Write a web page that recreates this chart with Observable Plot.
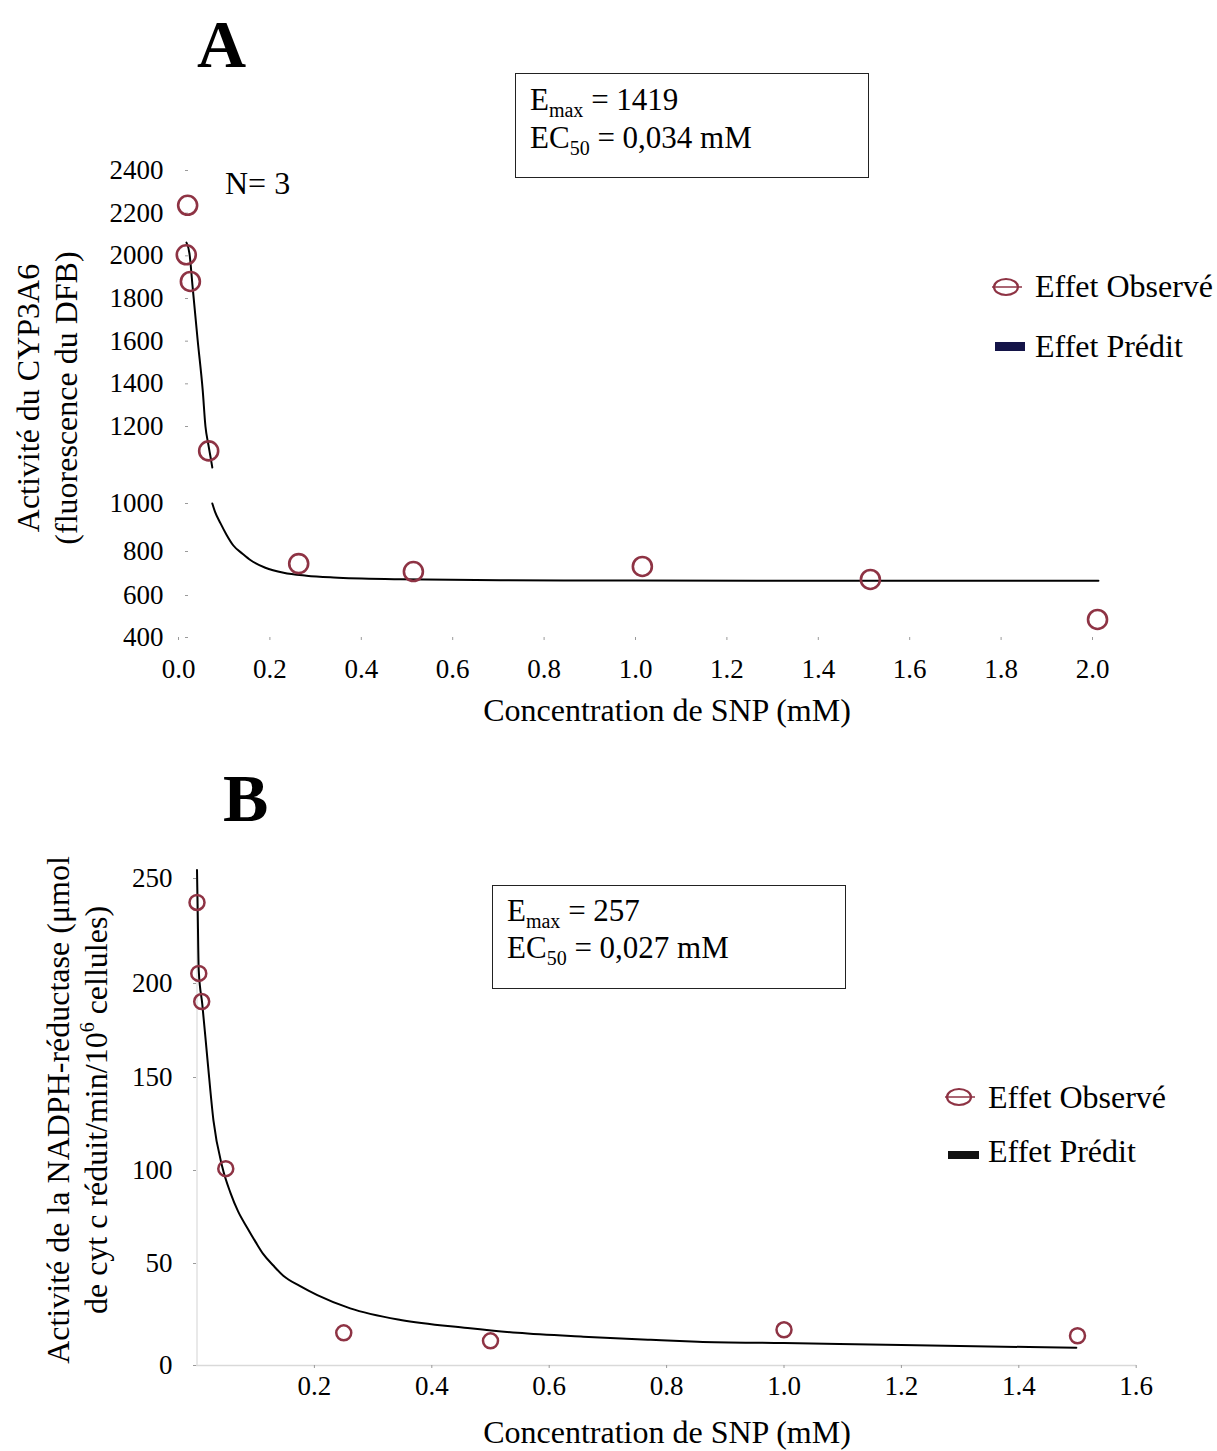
<!DOCTYPE html>
<html>
<head>
<meta charset="utf-8">
<script src="https://cdn.jsdelivr.net/npm/d3@7"></script>
<script src="https://cdn.jsdelivr.net/npm/@observablehq/plot@0.6"></script>
<style>
  body { margin: 0; background: white; }
  #page { position: relative; width: 1217px; height: 1451px; font-family: "Liberation Serif", "Times New Roman", serif; color: black; overflow: hidden; }
  .abs { position: absolute; white-space: nowrap; line-height: 1; }
  .t32 { font-size: 32px; }
  .sub { font-size: 20px; position: relative; top: 7px; }
  .sup { font-size: 20px; position: relative; top: -13px; }
  .box { position: absolute; border: 1.5px solid #222; box-sizing: border-box; }
  .ytitle { position: absolute; text-align: center; font-size: 32px; line-height: 38px; transform: rotate(-90deg); white-space: nowrap; }
</style>
</head>
<body>
<div id="page">
  <div id="plotA" style="position:absolute; left:0; top:0;"></div>
  <div id="plotB" style="position:absolute; left:0; top:740px;"></div>

  <!-- Panel A annotations -->
  <div class="abs" style="left:197px; top:10px; font-size:68px; font-weight:bold;">A</div>
  <div class="box" style="left:515px; top:73px; width:354px; height:105px;"></div>
  <div class="abs" style="left:530px; top:84px; font-size:31px;">E<span class="sub">max</span> = 1419</div>
  <div class="abs" style="left:530px; top:122px; font-size:31px;">EC<span class="sub">50</span> = 0,034 mM</div>
  <div class="abs t32" style="left:225px; top:167px;">N= 3</div>
  <div class="ytitle" style="left:-253px; top:360px; width:600px; height:76px;">Activité du CYP3A6<br>(fluorescence du DFB)</div>
  <div class="abs t32" style="left:0; width:1334px; text-align:center; top:694px;">Concentration de SNP (mM)</div>
  <svg class="abs" style="left:989px; top:275px;" width="36" height="24">
    <ellipse cx="17" cy="12" rx="12" ry="8" fill="none" stroke="#8e3344" stroke-width="2.2"/>
    <line x1="3" y1="12" x2="33" y2="12" stroke="#8e3344" stroke-width="1.5"/>
  </svg>
  <div class="abs t32" style="left:1035px; top:270px;">Effet Observé</div>
  <div class="abs" style="left:995px; top:342px; width:30px; height:9px; background:#141448;"></div>
  <div class="abs t32" style="left:1035px; top:330px;">Effet Prédit</div>

  <!-- Panel B annotations -->
  <div class="abs" style="left:223px; top:764px; font-size:68px; font-weight:bold;">B</div>
  <div class="box" style="left:492px; top:885px; width:354px; height:104px;"></div>
  <div class="abs" style="left:507px; top:895px; font-size:31px;">E<span class="sub">max</span> = 257</div>
  <div class="abs" style="left:507px; top:932px; font-size:31px;">EC<span class="sub">50</span> = 0,027 mM</div>
  <div class="ytitle" style="left:-223px; top:1072px; width:600px; height:76px;">Activité de la NADPH-réductase (μmol<br>de cyt c réduit/min/10<span class="sup">6</span> cellules)</div>
  <div class="abs t32" style="left:0; width:1334px; text-align:center; top:1416px;">Concentration de SNP (mM)</div>
  <svg class="abs" style="left:942px; top:1085px;" width="36" height="24">
    <ellipse cx="17" cy="12" rx="12" ry="8" fill="none" stroke="#8e3344" stroke-width="2.2"/>
    <line x1="3" y1="12" x2="33" y2="12" stroke="#8e3344" stroke-width="1.5"/>
  </svg>
  <div class="abs t32" style="left:988px; top:1081px;">Effet Observé</div>
  <div class="abs" style="left:948px; top:1151px; width:31px; height:8px; background:#111;"></div>
  <div class="abs t32" style="left:988px; top:1135px;">Effet Prédit</div>
</div>

<script>
// ---------- Panel A : CYP3A6 activity ----------
const concObsA  = [0.017, 0.020, 0.026, 0.066, 0.263, 0.514, 1.015, 1.514, 2.011];
const effetObsA = [2005, 2237, 1880, 1087, 745, 709, 732, 673, 486];

// predicted curve (upper part above the axis break, lower part below)
const concPredA_haut  = [0.0175, 0.024, 0.031, 0.042, 0.053, 0.059, 0.065, 0.070, 0.074];
const effetPredA_haut = [2062, 2011, 1852, 1603, 1369, 1200, 1120, 1060, 1010];
const concPredA_bas   = [0.074, 0.080, 0.092, 0.105, 0.120, 0.140, 0.158, 0.190, 0.230, 0.280, 0.339, 0.486, 0.705, 1.000, 1.500, 2.013];
const effetPredA_bas  = [1000, 965, 917, 870, 825, 790, 760, 726, 703, 690, 682, 674, 669, 668, 667, 667];

const ticksYA = [400, 600, 800, 1000, 1200, 1400, 1600, 1800, 2000, 2200, 2400];
const ticksXA = [0, 0.2, 0.4, 0.6, 0.8, 1.0, 1.2, 1.4, 1.6, 1.8, 2.0];

// ---------- Panel B : NADPH-reductase activity ----------
const concObsB  = [0, 0.003, 0.008, 0.049, 0.25, 0.5, 1.0, 1.5];
const effetObsB = [238.6, 204.8, 190.4, 101, 16, 12.1, 17.5, 14.6];

const concPredB  = [0, 0.001, 0.003, 0.009, 0.018, 0.028, 0.043, 0.057, 0.070, 0.086, 0.100, 0.113, 0.130, 0.147, 0.175, 0.205, 0.261, 0.347, 0.461, 0.546, 0.658, 0.773, 0.853, 1.0, 1.2, 1.498];
const effetPredB = [254, 238, 206, 189, 159, 127, 102, 88, 78, 69, 61.5, 55, 49, 44, 39, 34.5, 28, 22.3, 18.4, 16, 14.1, 12.6, 11.7, 11.0, 10.0, 8.7];

const ticksYB = [0, 50, 100, 150, 200, 250];
const ticksXB = [0.2, 0.4, 0.6, 0.8, 1.0, 1.2, 1.4, 1.6];

// tables built from the arrays
const obsA = concObsA.map((x, i) => ({x, y: effetObsA[i]}));
const predA = [
  ...concPredA_haut.map((x, i) => ({x, y: effetPredA_haut[i], seg: "haut"})),
  ...concPredA_bas.map((x, i) => ({x, y: effetPredA_bas[i], seg: "bas"}))
];
const obsB = concObsB.map((x, i) => ({x, y: effetObsB[i]}));
const predB = concPredB.map((x, i) => ({x, y: effetPredB[i]}));

const font = "'Liberation Serif', 'Times New Roman', serif";
const markerColor = "#8e3344";

// The scanned figure's y axes are not evenly spaced (panel A has a break between 1000 and 1200):
// a scale transform reproduces that spacing.
const breakA = d3.scaleLinear().domain([400, 600, 800, 1000, 1010, 1200, 2400]).range([0, 42, 86, 134, 170, 211, 467]);
const spacingB = d3.scaleLinear().domain([0, 50, 100, 150, 200, 250]).range([0, 102, 195, 288, 382, 487]);

const plotA = Plot.plot({
  width: 1217,
  height: 740,
  marginLeft: 188,
  marginRight: 125,
  marginTop: 170,
  marginBottom: 103,
  style: {fontFamily: font, fontSize: "27px", background: "transparent", overflow: "visible", color: "black"},
  x: {domain: [0, 2], range: [178, 1092]},
  y: {transform: v => breakA(v), domain: [0, 467], range: [637, 170]},
  marks: [
    Plot.axisY(ticksYA, {anchor: "left", tickSize: 3, tickPadding: 22, stroke: "#9a9a9a", fill: "black", label: null, fontSize: 27, tickFormat: d => String(d)}),
    Plot.axisX(ticksXA, {anchor: "bottom", tickSize: 3, tickPadding: 18, stroke: "#9a9a9a", fill: "black", label: null, fontSize: 27, tickFormat: d => d.toFixed(1)}),
    Plot.line(predA, {x: "x", y: "y", z: "seg", curve: "monotone-x", stroke: "black", strokeWidth: 2}),
    Plot.dot(obsA, {x: "x", y: "y", r: 9.5, stroke: markerColor, strokeWidth: 2.6, fill: "none"})
  ]
});
document.getElementById("plotA").appendChild(plotA);

const plotB = Plot.plot({
  width: 1217,
  height: 711,
  marginLeft: 196,
  marginRight: 81,
  marginTop: 138,
  marginBottom: 86,
  style: {fontFamily: font, fontSize: "27px", background: "transparent", overflow: "visible", color: "black"},
  x: {domain: [0, 1.6], range: [196.5, 1135.7]},
  y: {transform: v => spacingB(v), domain: [0, 487], range: [625, 138]},
  marks: [
    Plot.ruleY([0], {stroke: "#d9d9d9", strokeWidth: 1.5}),
    Plot.ruleX([0], {stroke: "#e2e2e2", strokeWidth: 1.5}),
    Plot.axisY(ticksYB, {anchor: "left", tickSize: 3, tickPadding: 21, stroke: "#9a9a9a", fill: "black", label: null, fontSize: 27, tickFormat: d => String(d)}),
    Plot.axisX(ticksXB, {anchor: "bottom", tickSize: 3, tickPadding: 7, stroke: "#9a9a9a", fill: "black", label: null, fontSize: 27, tickFormat: d => d.toFixed(1)}),
    Plot.line(predB, {x: "x", y: "y", curve: "monotone-x", stroke: "black", strokeWidth: 2}),
    Plot.dot(obsB, {x: "x", y: "y", r: 7.5, stroke: markerColor, strokeWidth: 2.5, fill: "none"})
  ]
});
document.getElementById("plotB").appendChild(plotB);
</script>
</body>
</html>
